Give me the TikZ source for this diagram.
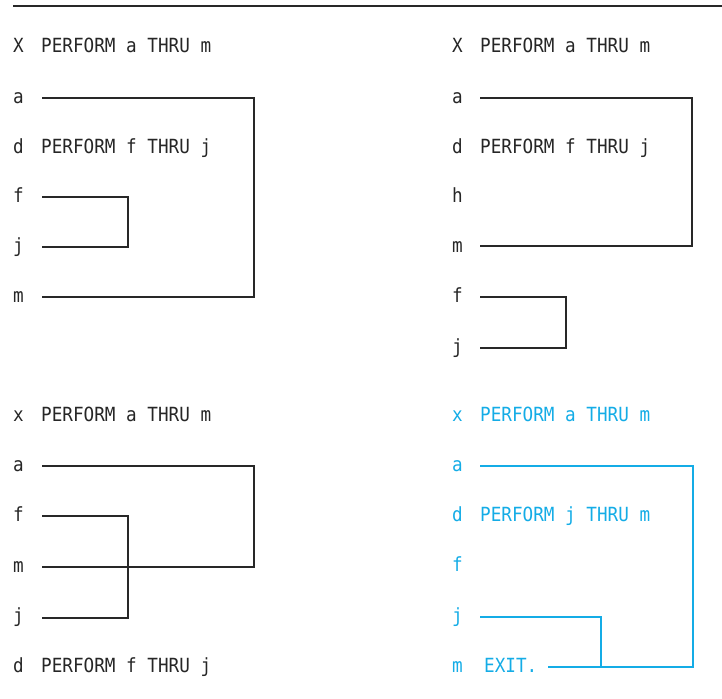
\documentclass[tikz,border=0pt]{standalone}
\usepackage{fontspec}
\setmonofont[FakeStretch=0.905]{DejaVu Sans Mono}
\definecolor{ink}{RGB}{38,38,38}
\definecolor{lineink}{RGB}{40,40,40}
\definecolor{cyanink}{RGB}{20,172,230}
\begin{document}
\begin{tikzpicture}[x=1pt,y=-1pt,
  txt/.style={font=\ttfamily\fontsize{19.5}{22}\selectfont, anchor=base west, inner sep=0pt, text=ink, yshift=-5.5pt},
  ctxt/.style={txt, text=cyanink},
  ln/.style={draw=lineink, line width=1.2pt},
  cln/.style={draw=cyanink, line width=1.2pt}]
\useasboundingbox (0,0) rectangle (722,698);
% top rule
\coordinate (rule0) at (13,6);
\coordinate (rule1) at (722,6);
\draw[ln] (rule0) -- (rule1);

% ---------- top left ----------
\node[txt] (tlX) at (13,47) {X};
\node[txt] (tlXt) at (41,47) {PERFORM a THRU m};
\node[txt] (tla) at (13,98) {a};
\node[txt] (tld) at (13,148) {d};
\node[txt] (tldt) at (41,148) {PERFORM f THRU j};
\node[txt] (tlf) at (13,197) {f};
\node[txt] (tlj) at (13,247) {j};
\node[txt] (tlm) at (13,297) {m};
\coordinate (tlA) at (42,98);
\coordinate (tlAc) at (254,98);
\coordinate (tlM) at (42,297);
\coordinate (tlF) at (42,197);
\coordinate (tlFc) at (128,197);
\coordinate (tlJ) at (42,247);
\draw[ln] (tlA) -- (tlAc) |- (tlM);
\draw[ln] (tlF) -- (tlFc) |- (tlJ);

% ---------- top right ----------
\node[txt] (trX) at (452,47) {X};
\node[txt] (trXt) at (480,47) {PERFORM a THRU m};
\node[txt] (tra) at (452,98) {a};
\node[txt] (trd) at (452,148) {d};
\node[txt] (trdt) at (480,148) {PERFORM f THRU j};
\node[txt] (trh) at (452,197) {h};
\node[txt] (trm) at (452,247) {m};
\node[txt] (trf) at (452,297) {f};
\node[txt] (trj) at (452,348) {j};
\coordinate (trA) at (480,98);
\coordinate (trAc) at (692,98);
\coordinate (trM) at (480,246);
\coordinate (trF) at (480,297);
\coordinate (trFc) at (566,297);
\coordinate (trJ) at (480,348);
\draw[ln] (trA) -- (trAc) |- (trM);
\draw[ln] (trF) -- (trFc) |- (trJ);

% ---------- bottom left ----------
\node[txt] (blx) at (13,416) {x};
\node[txt] (blxt) at (41,416) {PERFORM a THRU m};
\node[txt] (bla) at (13,466) {a};
\node[txt] (blf) at (13,516) {f};
\node[txt] (blm) at (13,567) {m};
\node[txt] (blj) at (13,617) {j};
\node[txt] (bld) at (13,667) {d};
\node[txt] (bldt) at (41,667) {PERFORM f THRU j};
\coordinate (blA) at (42,466);
\coordinate (blAc) at (254,466);
\coordinate (blM) at (42,567);
\coordinate (blF) at (42,516);
\coordinate (blFc) at (128,516);
\coordinate (blJ) at (42,618);
\draw[ln] (blA) -- (blAc) |- (blM);
\draw[ln] (blF) -- (blFc) |- (blJ);

% ---------- bottom right (cyan) ----------
\node[ctxt] (brx) at (452,416) {x};
\node[ctxt] (brxt) at (480,416) {PERFORM a THRU m};
\node[ctxt] (bra) at (452,466) {a};
\node[ctxt] (brd) at (452,516) {d};
\node[ctxt] (brdt) at (480,516) {PERFORM j THRU m};
\node[ctxt] (brf) at (452,566) {f};
\node[ctxt] (brj) at (452,617) {j};
\node[ctxt] (brm) at (452,667) {m};
\node[ctxt] (brmt) at (484,667) {EXIT.};
\coordinate (brA) at (480,466);
\coordinate (brAc) at (693,466);
\coordinate (brM) at (548,667);
\coordinate (brJ) at (480,617);
\coordinate (brJc) at (601,617);
\coordinate (brJe) at (601,667);
\draw[cln] (brA) -- (brAc) |- (brM);
\draw[cln] (brJ) -- (brJc) -- (brJe);
\end{tikzpicture}
\end{document}
